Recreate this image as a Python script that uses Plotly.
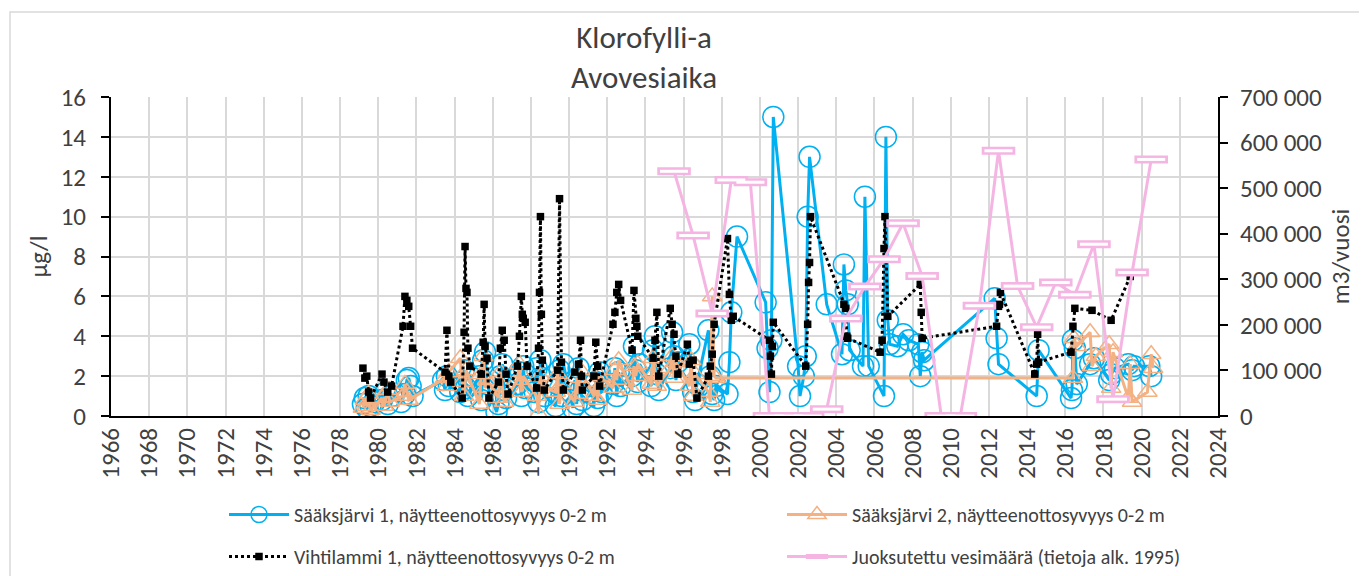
import plotly.graph_objects as go

# Sääksjärvi 1 (µg/l)
s1_year = [1979.2, 1979.3, 1979.4, 1979.5, 1979.6, 1979.8, 1980.2, 1980.4, 1980.5, 1980.7,
           1981.2, 1981.4, 1981.5, 1981.6, 1981.7, 1981.8, 1983.4, 1983.5, 1983.6, 1983.7,
           1984.3, 1984.4, 1984.5, 1984.6, 1984.7, 1985.3, 1985.4, 1985.5, 1985.6, 1985.7,
           1986.2, 1986.3, 1986.4, 1986.5, 1986.6, 1986.7, 1987.3, 1987.4, 1987.5, 1987.6,
           1987.7, 1988.2, 1988.3, 1988.4, 1988.5, 1988.6, 1988.7, 1989.3, 1989.4, 1989.5,
           1989.6, 1989.7, 1990.2, 1990.3, 1990.4, 1990.5, 1990.6, 1990.7, 1991.3, 1991.4,
           1991.5, 1991.6, 1991.7, 1992.3, 1992.4, 1992.5, 1992.6, 1992.7, 1993.3, 1993.4,
           1993.5, 1993.6, 1993.7, 1994.3, 1994.4, 1994.5, 1994.6, 1994.7, 1995.3, 1995.4,
           1995.5, 1995.6, 1995.7, 1996.3, 1996.4, 1996.5, 1996.6, 1996.7, 1997.3, 1997.4,
           1997.5, 1997.6, 1997.7, 1998.3, 1998.4, 1998.5, 1998.8, 2000.3, 2000.4, 2000.5,
           2000.6, 2000.7, 2002.0, 2002.1, 2002.3, 2002.4, 2002.5, 2002.6, 2003.5, 2004.3,
           2004.4, 2004.5, 2004.6, 2004.7, 2005.4, 2005.5, 2005.7, 2006.5, 2006.6, 2006.7,
           2006.8, 2007.2, 2007.5, 2007.8, 2008.3, 2008.4, 2008.5, 2008.6, 2012.3, 2012.4,
           2012.5, 2014.5, 2014.6, 2016.3, 2016.35, 2016.4, 2016.5, 2016.6, 2017.3, 2017.5,
           2018.3, 2018.4, 2018.6, 2019.3, 2019.5, 2019.6, 2020.4, 2020.5]
s1_val = [0.6, 0.9, 0.4, 1.0, 0.5, 0.7, 0.8, 1.2, 0.6, 1.0,
          0.7, 1.1, 1.8, 1.9, 1.5, 1.0, 1.8, 1.3, 2.0, 1.5,
          1.2, 1.7, 2.3, 1.4, 1.0, 2.0, 0.8, 2.8, 3.2, 1.6,
          0.2, 0.6, 2.0, 2.6, 1.3, 0.9, 1.6, 2.2, 1.0, 2.5,
          1.4, 1.2, 2.4, 0.7, 2.8, 1.9, 1.0, 0.5, 1.6, 2.3,
          1.0, 2.6, 0.4, 1.8, 0.6, 2.4, 1.3, 0.8, 0.5, 1.7,
          0.9, 2.2, 1.2, 1.6, 2.4, 1.0, 2.2, 1.5, 2.0, 3.5,
          2.3, 1.7, 2.6, 1.5, 3.3, 4.0, 2.1, 1.3, 2.4, 4.2,
          3.0, 1.8, 2.7, 3.6, 2.4, 1.2, 0.8, 1.6, 4.3, 2.0,
          1.1, 0.8, 1.5, 1.1, 2.7, 5.2, 9.0, 5.7, 3.4, 1.2,
          3.8, 15.0, 2.5, 1.0, 2.0, 3.0, 10.0, 13.0, 5.6, 3.1,
          7.6, 6.3, 5.6, 3.3, 2.5, 11.0, 2.5, 1.0, 14.0, 4.8,
          3.6, 3.5, 4.1, 3.8, 3.6, 2.0, 3.2, 2.8, 5.9, 3.9,
          2.6, 1.0, 3.3, 0.9, 1.3, 3.8, 3.4, 1.6, 2.6, 2.9,
          1.8, 2.1, 2.4, 2.6, 2.3, 2.5, 2.5, 2.0]

# Sääksjärvi 2 (µg/l)
s2_year = [1979.2, 1979.3, 1979.4, 1979.5, 1979.6, 1980.2, 1980.3, 1980.5, 1980.6, 1981.3,
           1981.4, 1981.5, 1981.6, 1983.5, 1983.6, 1983.7, 1984.3, 1984.4, 1984.5, 1984.6,
           1985.3, 1985.4, 1985.5, 1985.6, 1985.7, 1986.3, 1986.4, 1986.5, 1986.6, 1987.3,
           1987.4, 1987.5, 1987.6, 1988.3, 1988.4, 1988.5, 1988.6, 1989.3, 1989.4, 1989.5,
           1989.6, 1990.3, 1990.4, 1990.5, 1990.6, 1991.3, 1991.4, 1991.5, 1991.6, 1992.3,
           1992.4, 1992.5, 1992.6, 1993.3, 1993.4, 1993.5, 1993.6, 1994.3, 1994.4, 1994.5,
           1994.6, 1995.3, 1995.4, 1995.5, 1995.6, 1996.3, 1996.4, 1996.5, 1996.6, 1997.3,
           1997.4, 1997.5, 1997.6, 1997.7, 2016.4, 2016.45, 2016.6, 2017.3, 2017.4, 2017.6,
           2018.3, 2018.4, 2018.5, 2019.3, 2019.4, 2019.5, 2020.3, 2020.5, 2020.6]
s2_val = [0.4, 0.8, 0.5, 1.1, 0.3, 0.9, 0.5, 1.3, 0.7, 1.0,
          1.6, 1.2, 0.8, 1.9, 1.5, 2.2, 2.9, 1.7, 1.0, 2.3,
          0.6, 2.1, 3.0, 1.4, 1.8, 0.9, 2.2, 1.5, 0.7, 1.8,
          2.6, 1.2, 2.0, 1.0, 0.1, 2.0, 1.5, 1.2, 2.1, 0.6,
          1.6, 0.7, 1.9, 1.1, 2.3, 1.0, 1.7, 0.8, 2.0, 1.4,
          2.3, 1.8, 2.8, 1.3, 2.5, 2.0, 2.6, 1.6, 2.9, 2.2,
          1.5, 2.4, 3.0, 1.9, 2.7, 1.5, 2.8, 1.0, 2.1, 1.2,
          0.7, 6.0, 2.0, 1.9, 1.9, 3.9, 3.5, 4.2, 2.5, 3.0,
          3.6, 1.4, 3.2, 0.9, 2.6, 0.7, 1.2, 3.1, 2.4]

# Vihtilammi 1 (µg/l)
v1_year = [1979.2, 1979.3, 1979.4, 1979.5, 1979.6, 1980.2, 1980.3, 1980.5, 1980.7, 1981.3,
           1981.4, 1981.5, 1981.6, 1981.7, 1981.8, 1983.5, 1983.6, 1983.7, 1983.8, 1984.4,
           1984.5, 1984.55, 1984.6, 1984.65, 1984.7, 1984.8, 1985.4, 1985.5, 1985.55, 1985.6,
           1985.7, 1985.8, 1986.3, 1986.4, 1986.5, 1986.6, 1986.7, 1986.8, 1987.3, 1987.4,
           1987.5, 1987.55, 1987.6, 1987.7, 1987.8, 1988.3, 1988.4, 1988.45, 1988.5, 1988.55,
           1988.6, 1988.7, 1989.4, 1989.5, 1989.6, 1989.7, 1990.3, 1990.5, 1990.6, 1990.65,
           1990.7, 1991.3, 1991.4, 1991.5, 1991.6, 1992.3, 1992.4, 1992.5, 1992.6, 1992.7,
           1993.3, 1993.4, 1993.5, 1993.55, 1993.6, 1994.4, 1994.5, 1994.6, 1994.7, 1995.3,
           1995.4, 1995.5, 1995.6, 1995.7, 1996.2, 1996.3, 1996.5, 1996.7, 1997.3, 1997.4,
           1997.5, 1997.6, 1998.3, 1998.4, 1998.5, 1998.6, 2000.5, 2000.55, 2000.6, 2000.65,
           2000.7, 2002.4, 2002.5, 2002.55, 2002.6, 2002.65, 2004.4, 2004.5, 2004.55, 2004.6,
           2006.3, 2006.4, 2006.5, 2006.55, 2006.7, 2008.4, 2008.45, 2008.5, 2012.4, 2012.5,
           2012.55, 2012.6, 2014.4, 2014.5, 2014.55, 2014.6, 2016.3, 2016.4, 2016.5, 2017.4,
           2018.4, 2019.4]
v1_val = [2.4, 1.9, 2.0, 1.2, 0.9, 2.1, 1.7, 1.2, 1.5, 4.5,
          6.0, 5.8, 5.5, 4.5, 3.4, 2.2, 4.3, 2.0, 1.7, 0.9,
          4.2, 8.5, 6.4, 6.2, 3.4, 2.5, 2.1, 3.7, 5.6, 3.5,
          2.9, 0.9, 1.7, 3.4, 4.3, 3.8, 2.1, 1.1, 2.5, 4.0,
          6.0, 5.1, 4.9, 4.7, 2.5, 1.4, 3.4, 6.2, 10.0, 5.1,
          2.8, 1.3, 2.3, 10.9, 2.7, 1.3, 2.2, 2.6, 3.8, 2.0,
          1.3, 2.0, 3.7, 2.5, 1.5, 4.6, 5.2, 6.2, 6.6, 5.8,
          3.3, 6.3, 4.9, 4.5, 4.0, 2.9, 3.8, 5.2, 2.0, 5.4,
          4.6, 4.1, 3.0, 2.1, 3.6, 2.6, 2.8, 0.9, 2.0, 2.5,
          3.1, 4.6, 8.9, 6.1, 4.8, 5.0, 3.8, 3.0, 2.1, 3.5,
          4.7, 2.5, 4.6, 6.7, 7.7, 10.0, 5.6, 5.4, 4.0, 3.9,
          3.2, 3.8, 8.4, 10.0, 5.0, 6.6, 5.2, 3.9, 4.5, 5.5,
          5.6, 6.2, 2.1, 2.6, 4.1, 2.7, 3.2, 4.5, 5.4, 5.3,
          4.8, 7.0]

# Juoksutettu vesimäärä (m3/vuosi)
j_year = [1995.5, 1996.5, 1997.5, 1998.5, 1999.5, 2000.5, 2001.5, 2002.5, 2003.5, 2004.5,
          2005.5, 2006.5, 2007.5, 2008.5, 2009.5, 2010.5, 2011.5, 2012.5, 2013.5, 2014.5,
          2015.5, 2016.5, 2017.5, 2018.5, 2019.5, 2020.5]
j_val = [537000, 396000, 225000, 518000, 513000, 0, 0, 0, 15000, 214000,
         284000, 344000, 423000, 307000, 0, 0, 242000, 582000, 285000, 195000,
         293000, 266000, 377000, 37000, 315000, 563000]

year_ticks = list(range(1966, 2025, 2))

FONT = "Calibri, Carlito, Lato, sans-serif"
TXT = '#404040'
BLUE = "#00B0F0"
ORANGE = "#F4B183"
PINK = "#F5B5E3"

# plot area in figure pixels (page shows the figure offset by 8 px)
L, R, T, B = 103, 1210, 89, 408
PW, PH = R - L, B - T


def px_x(p):
    return (p - L) / PW


def px_y(p):
    return (B - p) / PH


fig = go.Figure()

fig.add_trace(go.Scatter(x=s1_year, y=s1_val, mode='lines+markers', name='Sääksjärvi 1, näytteenottosyvyys 0-2 m',
                         line=dict(color=BLUE, width=3),
                         marker=dict(symbol='circle-open', size=21, color=BLUE, line=dict(width=1.5)),
                         legend='legend'))
fig.add_trace(go.Scatter(x=s2_year, y=s2_val, mode='lines+markers', name='Sääksjärvi 2, näytteenottosyvyys 0-2 m',
                         line=dict(color=ORANGE, width=3),
                         marker=dict(symbol='triangle-up-open', size=17, color=ORANGE, line=dict(width=1.5)),
                         legend='legend2'))
fig.add_trace(go.Scatter(x=v1_year, y=v1_val, mode='lines+markers', name='Vihtilammi 1, näytteenottosyvyys 0-2 m',
                         line=dict(color='black', width=3, dash='dot'),
                         marker=dict(symbol='square', size=7.5, color='black'),
                         legend='legend3'))
fig.add_trace(go.Scatter(x=j_year, y=j_val, mode='lines+markers', name='Juoksutettu vesimäärä (tietoja alk. 1995)',
                         line=dict(color=PINK, width=3),
                         marker=dict(symbol='line-ew', size=24, color=PINK, line=dict(width=8, color=PINK)),
                         yaxis='y2', legend='legend4'))
# white centre of the pink bar markers
fig.add_trace(go.Scatter(x=j_year, y=j_val, mode='markers', showlegend=False, hoverinfo='skip',
                         marker=dict(symbol='line-ew', size=20, line=dict(width=3, color='white')),
                         yaxis='y2'))

axis_font = dict(family=FONT, size=25, color=TXT)
leg_font = dict(family=FONT, size=20, color=TXT)


def leg(x, y):
    return dict(orientation='h', x=px_x(x), xanchor='left', y=px_y(y), yanchor='top', itemwidth=60,
                font=leg_font, bgcolor='rgba(0,0,0,0)')


fig.update_layout(
    width=1367, height=576,
    margin=dict(l=L, r=1367 - R, t=T, b=576 - B, autoexpand=False),
    paper_bgcolor='white', plot_bgcolor='white',
    font=dict(family=FONT, size=20, color=TXT),
    separators=', ',
    title=dict(text='Klorofylli-a<br>Avovesiaika', x=636 / 1367, xanchor='center', xref='container',
               y=1 - 40 / 576, yanchor='top', yref='container', font=dict(family=FONT, size=31, color=TXT)),
    xaxis=dict(range=[1966, 2024], tickvals=year_ticks, ticktext=[str(y) for y in year_ticks], tickangle=-90,
               showgrid=True, gridcolor='#D9D9D9', gridwidth=2, zeroline=False,
               showline=True, linecolor='black', linewidth=2, ticks='', tickfont=axis_font),
    yaxis=dict(range=[0, 16], dtick=2, showgrid=True, gridcolor='#D9D9D9', gridwidth=2, zeroline=False,
               showline=True, linecolor='black', linewidth=2, ticks='outside', ticklen=8, tickwidth=2,
               tickcolor='black', tickfont=axis_font, ticklabelstandoff=10,
               title=dict(text='µg/l', font=axis_font, standoff=6)),
    yaxis2=dict(range=[0, 700000], dtick=100000, overlaying='y', side='right', showgrid=False, zeroline=False,
                tickformat=',d', showline=True, linecolor='black', linewidth=2, ticks='outside', ticklen=8,
                tickwidth=2, tickcolor='black', tickfont=axis_font, ticklabelstandoff=7,
                title=dict(text='m3/vuosi', font=axis_font, standoff=10)),
    legend=leg(216, 487),
    legend2=leg(774, 487),
    legend3=leg(216, 529),
    legend4=leg(774, 529),
    shapes=[dict(type='rect', xref='paper', yref='paper', x0=px_x(2), x1=px_x(1380),
                 y0=px_y(600), y1=px_y(4), line=dict(color='#D9D9D9', width=1.5),
                 fillcolor='rgba(0,0,0,0)', layer='below')],
)

fig.write_html("out.html")
